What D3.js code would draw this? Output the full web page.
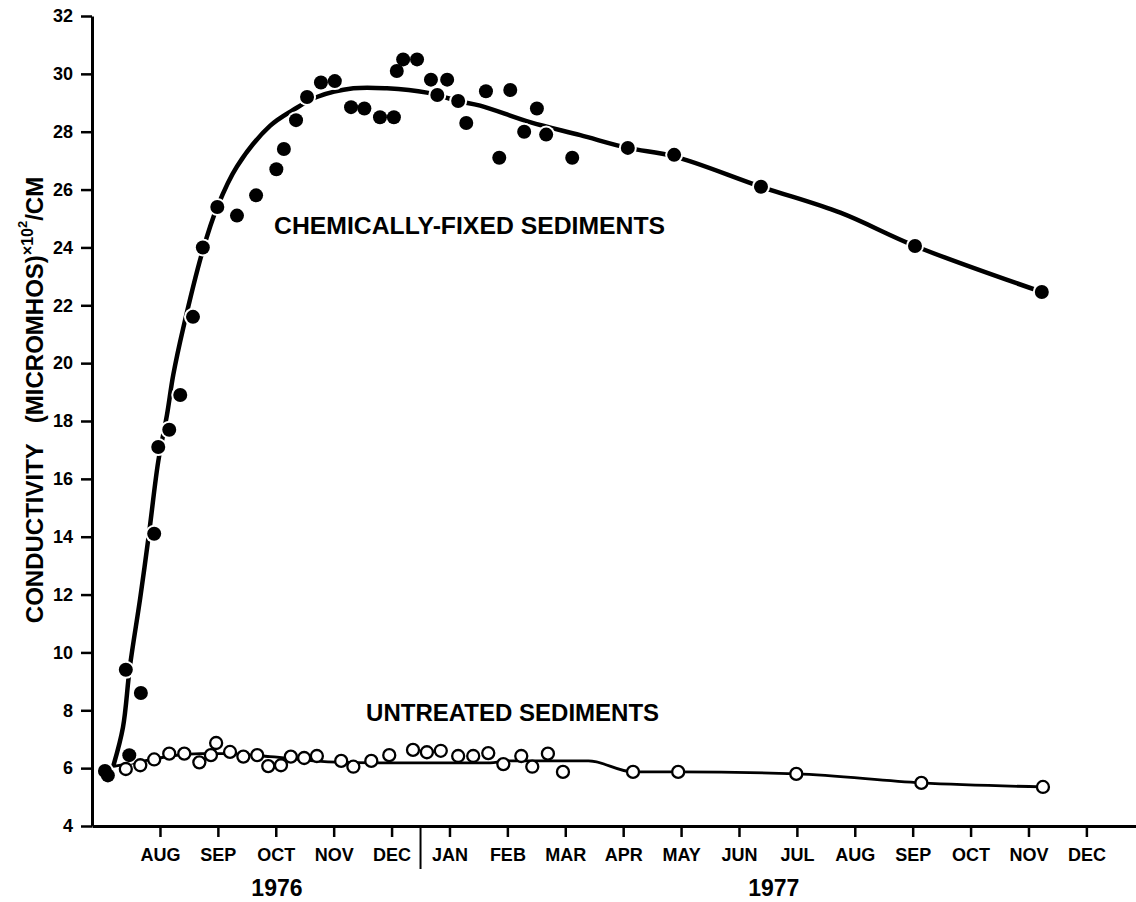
<!DOCTYPE html>
<html>
<head>
<meta charset="utf-8">
<script src="https://cdn.jsdelivr.net/npm/d3@7"></script>
<style>
  body { margin: 0; background: #fff; }
  svg text { font-family: "Liberation Sans", Arial, sans-serif; font-weight: bold; fill: #000; }
</style>
</head>
<body>
<div id="chart"></div>
<script>
// Data (x in months, AUG 1976 = 1) //
const monthLabels = ["AUG", "SEP", "OCT", "NOV", "DEC", "JAN", "FEB", "MAR", "APR",
                     "MAY", "JUN", "JUL", "AUG", "SEP", "OCT", "NOV", "DEC"];
const monthTicks = [1, 2, 3, 4, 5, 6, 7, 8, 9, 10, 11, 12, 13, 14, 15, 16, 17];
const yTicks = [4, 6, 8, 10, 12, 14, 16, 18, 20, 22, 24, 26, 28, 30, 32];
const yearLabels = ["1976", "1977"];
const yearCenters = [3.02, 11.6];
const yearDivider = 5.5;

// chemically-fixed sediments: measured points
const fixedMonths = [0.05, 0.10, 0.41, 0.47, 0.67, 0.90, 0.97, 1.16, 1.35, 1.57, 1.74, 1.99,
  2.33, 2.66, 3.01, 3.14, 3.35, 3.54, 3.78, 4.02, 4.30, 4.53, 4.80, 5.04, 5.09, 5.20, 5.44,
  5.68, 5.79, 5.96, 6.15, 6.29, 6.63, 6.86, 7.05, 7.29, 7.51, 7.67, 8.12, 9.08, 9.88, 11.38,
  14.04, 16.23];
const fixedValues = [5.9, 5.75, 9.4, 6.45, 8.6, 14.1, 17.1, 17.7, 18.9, 21.6, 24.0, 25.4,
  25.1, 25.8, 26.7, 27.4, 28.4, 29.2, 29.7, 29.75, 28.85, 28.8, 28.5, 28.5, 30.1, 30.5, 30.5,
  29.8, 29.27, 29.8, 29.06, 28.3, 29.4, 27.1, 29.44, 28.0, 28.8, 27.9, 27.1, 27.44, 27.2, 26.1,
  24.05, 22.46];

// chemically-fixed sediments: fitted curve
const fixedCurveMonths = [0.19, 0.36, 0.48, 0.66, 0.81, 0.97, 1.12, 1.23, 1.40, 1.74, 1.99,
  2.33, 2.90, 3.30, 3.71, 4.34, 4.92, 5.61, 6.15, 6.53, 7.39, 8.26, 9.08, 9.88, 11.38, 12.75,
  14.04, 16.23];
const fixedCurveValues = [6.05, 7.4, 9.5, 11.9, 14.1, 16.6, 18.2, 19.6, 21.2, 23.9, 25.4,
  26.8, 28.2, 28.75, 29.2, 29.5, 29.5, 29.35, 29.06, 28.9, 28.33, 27.88, 27.44, 27.15, 26.1,
  25.2, 24.05, 22.46];

// untreated sediments: measured points
const untreatedMonths = [0.41, 0.66, 0.90, 1.16, 1.42, 1.68, 1.88, 1.97, 2.21, 2.44, 2.68,
  2.87, 3.09, 3.26, 3.49, 3.71, 4.13, 4.34, 4.65, 4.96, 5.37, 5.61, 5.85, 6.15, 6.41, 6.67,
  6.93, 7.24, 7.43, 7.70, 7.96, 9.17, 9.95, 11.99, 14.15, 16.25];
const untreatedValues = [5.97, 6.1, 6.3, 6.5, 6.5, 6.2, 6.45, 6.87, 6.56, 6.4, 6.45, 6.07,
  6.1, 6.4, 6.35, 6.42, 6.25, 6.05, 6.25, 6.45, 6.63, 6.55, 6.6, 6.42, 6.42, 6.52, 6.14, 6.42,
  6.05, 6.5, 5.87, 5.87, 5.87, 5.8, 5.49, 5.35];

// untreated sediments: fitted curve
const untreatedCurveMonths = [0.17, 0.6, 1.2, 1.7, 2.2, 2.9, 3.9, 4.8, 6.7, 7.0, 8.4, 9.17,
  9.95, 11.99, 14.15, 16.25];
const untreatedCurveValues = [6.05, 6.2, 6.42, 6.5, 6.5, 6.4, 6.22, 6.18, 6.18, 6.25, 6.25,
  5.87, 5.87, 5.8, 5.49, 5.35];

const seriesLabels = ["CHEMICALLY-FIXED SEDIMENTS", "UNTREATED SEDIMENTS"];
const seriesLabelAt = [[2.97, 24.45], [4.56, 7.63]];

/* Canvas */
const W = 1136, H = 902;
const svg = d3.select("#chart").append("svg")
    .attr("width", W)
    .attr("height", H);

const xScale = d3.scaleLinear().domain([-0.174, 17.857]).range([92, 1136]);
const yScale = d3.scaleLinear().domain([4, 32]).range([826, 16]);

const zip = (xs, ys) => xs.map((m, i) => ({ m: m, v: ys[i] }));
const fixedPts = zip(fixedMonths, fixedValues);
const fixedCurve = zip(fixedCurveMonths, fixedCurveValues);
const untreatedPts = zip(untreatedMonths, untreatedValues);
const untreatedCurve = zip(untreatedCurveMonths, untreatedCurveValues);

/* Axes */
const yAxis = d3.axisLeft(yScale)
    .tickValues(yTicks)
    .tickSize(11)
    .tickSizeOuter(0)
    .tickPadding(8);

const xAxis = d3.axisBottom(xScale)
    .tickValues(monthTicks)
    .tickFormat((d, i) => monthLabels[i])
    .tickSize(11)
    .tickSizeOuter(0)
    .tickPadding(11);

const gy = svg.append("g")
    .attr("transform", `translate(${xScale.range()[0]},0)`)
    .call(yAxis);
gy.select(".domain").attr("stroke-width", 3);
gy.selectAll(".tick line").attr("stroke-width", 2.5);
gy.selectAll(".tick text").attr("font-size", "18px").attr("font-family", null);

const gx = svg.append("g")
    .attr("transform", `translate(0,${yScale(4)})`)
    .call(xAxis);
gx.select(".domain").attr("stroke-width", 3);
gx.selectAll(".tick line").attr("stroke-width", 2.5);
gx.selectAll(".tick text").attr("font-size", "18px").attr("font-family", null);

// year divider
svg.append("line")
    .attr("x1", xScale(yearDivider)).attr("x2", xScale(yearDivider))
    .attr("y1", yScale(4)).attr("y2", yScale(4) + 43)
    .attr("stroke", "#000")
    .attr("stroke-width", 2);

// year labels
svg.selectAll(".year")
    .data(yearLabels)
    .join("text")
    .attr("class", "year")
    .attr("x", (d, i) => xScale(yearCenters[i]))
    .attr("y", 896)
    .attr("text-anchor", "middle")
    .attr("font-size", "23px")
    .text(d => d);

// y axis title
const yTitle = svg.append("text")
    .attr("transform", `translate(43,${400}) rotate(-90)`)
    .attr("text-anchor", "middle")
    .attr("font-size", "24px");
yTitle.append("tspan").text("CONDUCTIVITY\u00a0\u00a0\u00a0(MICROMHOS)");
yTitle.append("tspan").attr("font-size", "16px").attr("dy", -10).text("\u00d710");
yTitle.append("tspan").attr("font-size", "13px").attr("dy", -6).text("2");
yTitle.append("tspan").attr("dy", 16).text("/CM");

/* Curves */
const line = d3.line()
    .x(d => xScale(d.m))
    .y(d => yScale(d.v));

svg.append("path")
    .datum(fixedCurve)
    .attr("fill", "none")
    .attr("stroke", "#000")
    .attr("stroke-width", 4.5)
    .attr("stroke-linejoin", "round")
    .attr("d", line.curve(d3.curveCatmullRom.alpha(0.5)));

svg.append("path")
    .datum(untreatedCurve)
    .attr("fill", "none")
    .attr("stroke", "#000")
    .attr("stroke-width", 2.8)
    .attr("stroke-linejoin", "round")
    .attr("d", line.curve(d3.curveMonotoneX));

/* Points */
// white halos so the line breaks around the dots
svg.selectAll(".halo")
    .data(fixedPts)
    .join("circle")
    .attr("class", "halo")
    .attr("cx", d => xScale(d.m))
    .attr("cy", d => yScale(d.v))
    .attr("r", 9)
    .attr("fill", "#fff");

svg.selectAll(".fixed")
    .data(fixedPts)
    .join("circle")
    .attr("class", "fixed")
    .attr("cx", d => xScale(d.m))
    .attr("cy", d => yScale(d.v))
    .attr("r", 7)
    .attr("fill", "#000");

svg.selectAll(".untreated")
    .data(untreatedPts)
    .join("circle")
    .attr("class", "untreated")
    .attr("cx", d => xScale(d.m))
    .attr("cy", d => yScale(d.v))
    .attr("r", 6)
    .attr("fill", "#fff")
    .attr("stroke", "#000")
    .attr("stroke-width", 2.3);

/* Series labels */
svg.selectAll(".series-label")
    .data(seriesLabels)
    .join("text")
    .attr("class", "series-label")
    .attr("x", (d, i) => xScale(seriesLabelAt[i][0]))
    .attr("y", (d, i) => yScale(seriesLabelAt[i][1]))
    .attr("font-size", "23px")
    .attr("textLength", (d, i) => i === 0 ? 391 : 293)
    .attr("lengthAdjust", "spacingAndGlyphs")
    .text(d => d);
</script>
</body>
</html>
